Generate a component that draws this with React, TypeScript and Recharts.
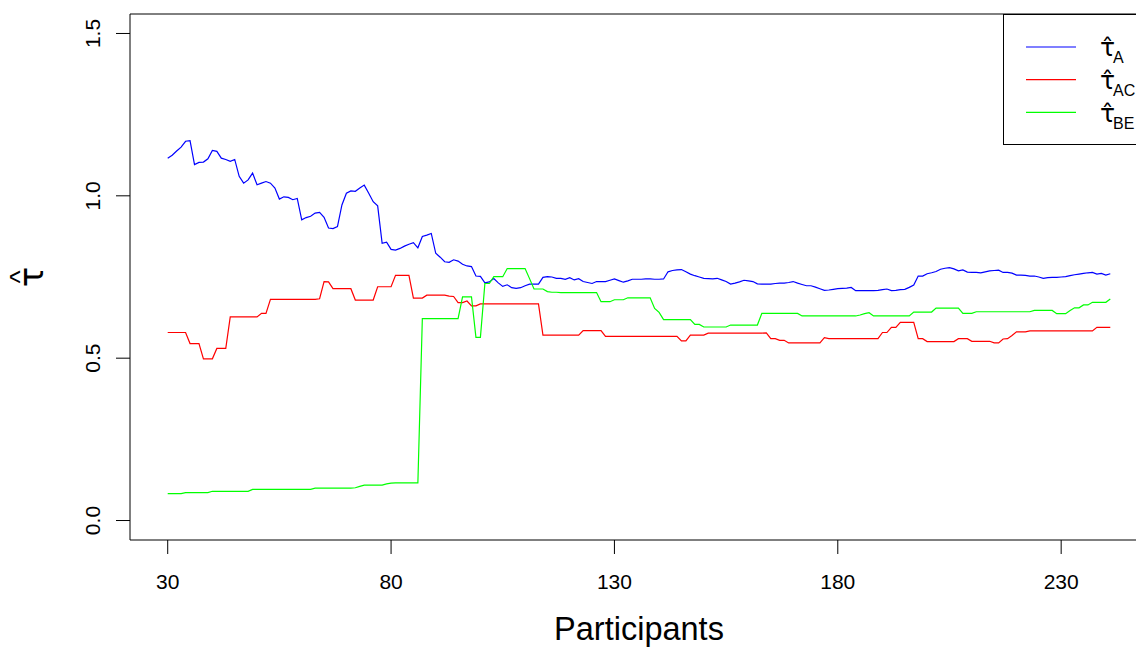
import React from 'react';
import { LineChart, Line, XAxis, YAxis, ReferenceArea, Legend, Label } from 'recharts';

const FONT = '"Liberation Sans", Arial, Helvetica, sans-serif';
const GREEK = '"DejaVu Sans", "Liberation Sans", sans-serif';

// tau-hat A, participants 30..241
const tauA = [
  1.116, 1.125, 1.138, 1.150, 1.168, 1.170, 1.096, 1.103, 1.104, 1.114,
  1.140, 1.137, 1.116, 1.112, 1.106, 1.112, 1.060, 1.039, 1.049, 1.070,
  1.034, 1.039, 1.044, 1.039, 1.024, 0.990, 0.997, 0.995, 0.988, 0.992,
  0.926, 0.933, 0.937, 0.947, 0.949, 0.934, 0.901, 0.899, 0.905, 0.972,
  1.008, 1.015, 1.014, 1.024, 1.033, 1.008, 0.982, 0.969, 0.854, 0.857,
  0.835, 0.833, 0.838, 0.845, 0.851, 0.856, 0.840, 0.875, 0.879, 0.884,
  0.823, 0.811, 0.797, 0.795, 0.803, 0.799, 0.789, 0.784, 0.782, 0.753,
  0.752, 0.732, 0.735, 0.745, 0.732, 0.721, 0.726, 0.717, 0.715, 0.717,
  0.723, 0.728, 0.728, 0.728, 0.749, 0.751, 0.750, 0.746, 0.746, 0.743,
  0.748, 0.741, 0.745, 0.736, 0.733, 0.730, 0.736, 0.736, 0.736, 0.740,
  0.744, 0.739, 0.734, 0.738, 0.743, 0.743, 0.743, 0.744, 0.744, 0.743,
  0.743, 0.744, 0.766, 0.770, 0.772, 0.773, 0.766, 0.759, 0.754, 0.750,
  0.746, 0.745, 0.744, 0.746, 0.741, 0.736, 0.728, 0.731, 0.735, 0.740,
  0.738, 0.736, 0.729, 0.728, 0.728, 0.728, 0.730, 0.731, 0.731, 0.733,
  0.736, 0.731, 0.727, 0.723, 0.723, 0.719, 0.714, 0.709, 0.710, 0.712,
  0.714, 0.715, 0.716, 0.718, 0.708, 0.708, 0.708, 0.708, 0.708, 0.709,
  0.711, 0.713, 0.708, 0.709, 0.711, 0.712, 0.718, 0.725, 0.753, 0.753,
  0.760, 0.763, 0.767, 0.774, 0.777, 0.779, 0.775, 0.769, 0.772, 0.765,
  0.764, 0.764, 0.763, 0.766, 0.769, 0.770, 0.771, 0.764, 0.764, 0.762,
  0.756, 0.756, 0.755, 0.753, 0.753, 0.750, 0.746, 0.748, 0.749, 0.749,
  0.750, 0.751, 0.754, 0.757, 0.759, 0.761, 0.763, 0.764, 0.759, 0.761,
  0.756, 0.760,
];

// tau-hat AC
const tauAC = [
  0.579, 0.579, 0.579, 0.579, 0.579, 0.545, 0.545, 0.545, 0.498, 0.498,
  0.498, 0.530, 0.530, 0.530, 0.627, 0.627, 0.627, 0.627, 0.627, 0.627,
  0.627, 0.638, 0.638, 0.681, 0.681, 0.681, 0.681, 0.681, 0.681, 0.681,
  0.681, 0.681, 0.681, 0.681, 0.683, 0.736, 0.735, 0.714, 0.714, 0.714,
  0.714, 0.714, 0.679, 0.679, 0.679, 0.679, 0.679, 0.720, 0.720, 0.720,
  0.720, 0.755, 0.755, 0.755, 0.755, 0.685, 0.685, 0.685, 0.694, 0.694,
  0.694, 0.694, 0.694, 0.691, 0.690, 0.671, 0.671, 0.676, 0.661, 0.661,
  0.667, 0.667, 0.667, 0.667, 0.667, 0.667, 0.667, 0.667, 0.667, 0.667,
  0.667, 0.667, 0.667, 0.667, 0.571, 0.571, 0.571, 0.571, 0.571, 0.571,
  0.571, 0.571, 0.571, 0.585, 0.585, 0.585, 0.585, 0.585, 0.567, 0.567,
  0.567, 0.567, 0.567, 0.567, 0.567, 0.567, 0.567, 0.567, 0.567, 0.567,
  0.567, 0.567, 0.567, 0.567, 0.567, 0.553, 0.553, 0.571, 0.571, 0.571,
  0.571, 0.577, 0.577, 0.577, 0.577, 0.577, 0.577, 0.577, 0.577, 0.577,
  0.577, 0.577, 0.577, 0.577, 0.578, 0.560, 0.560, 0.555, 0.555, 0.547,
  0.547, 0.547, 0.547, 0.547, 0.547, 0.547, 0.547, 0.563, 0.560, 0.560,
  0.560, 0.560, 0.560, 0.560, 0.560, 0.560, 0.560, 0.560, 0.560, 0.560,
  0.579, 0.579, 0.595, 0.595, 0.610, 0.610, 0.610, 0.610, 0.560, 0.560,
  0.551, 0.551, 0.551, 0.551, 0.551, 0.551, 0.551, 0.560, 0.560, 0.560,
  0.552, 0.552, 0.552, 0.552, 0.552, 0.547, 0.547, 0.559, 0.560, 0.570,
  0.581, 0.581, 0.581, 0.584, 0.584, 0.584, 0.584, 0.584, 0.584, 0.584,
  0.584, 0.584, 0.584, 0.584, 0.584, 0.584, 0.584, 0.584, 0.595, 0.595,
  0.595, 0.595,
];

// tau-hat BE
const tauBE = [
  0.083, 0.083, 0.083, 0.083, 0.086, 0.086, 0.086, 0.086, 0.086, 0.086,
  0.090, 0.090, 0.090, 0.090, 0.090, 0.090, 0.090, 0.090, 0.090, 0.096,
  0.096, 0.096, 0.096, 0.096, 0.096, 0.096, 0.096, 0.096, 0.096, 0.096,
  0.096, 0.096, 0.096, 0.100, 0.100, 0.100, 0.100, 0.100, 0.100, 0.100,
  0.100, 0.100, 0.101, 0.105, 0.109, 0.109, 0.109, 0.109, 0.109, 0.113,
  0.115, 0.116, 0.116, 0.116, 0.116, 0.116, 0.116, 0.622, 0.622, 0.622,
  0.622, 0.622, 0.622, 0.622, 0.622, 0.622, 0.689, 0.689, 0.689, 0.564,
  0.564, 0.730, 0.730, 0.751, 0.751, 0.751, 0.776, 0.776, 0.776, 0.776,
  0.776, 0.745, 0.713, 0.713, 0.713, 0.705, 0.703, 0.703, 0.702, 0.702,
  0.702, 0.702, 0.702, 0.702, 0.702, 0.702, 0.702, 0.674, 0.674, 0.674,
  0.680, 0.680, 0.680, 0.686, 0.686, 0.686, 0.686, 0.686, 0.686, 0.653,
  0.641, 0.619, 0.619, 0.619, 0.619, 0.619, 0.619, 0.619, 0.604, 0.604,
  0.596, 0.596, 0.596, 0.596, 0.596, 0.596, 0.602, 0.602, 0.602, 0.602,
  0.602, 0.602, 0.602, 0.638, 0.638, 0.638, 0.638, 0.638, 0.638, 0.638,
  0.638, 0.638, 0.630, 0.630, 0.630, 0.630, 0.630, 0.630, 0.630, 0.630,
  0.630, 0.630, 0.630, 0.630, 0.630, 0.633, 0.637, 0.640, 0.630, 0.630,
  0.630, 0.630, 0.630, 0.630, 0.630, 0.630, 0.630, 0.642, 0.642, 0.642,
  0.642, 0.642, 0.654, 0.654, 0.654, 0.654, 0.654, 0.654, 0.638, 0.638,
  0.638, 0.643, 0.643, 0.643, 0.643, 0.643, 0.643, 0.643, 0.643, 0.643,
  0.643, 0.643, 0.643, 0.643, 0.647, 0.647, 0.647, 0.647, 0.647, 0.637,
  0.637, 0.637, 0.647, 0.655, 0.655, 0.664, 0.664, 0.672, 0.672, 0.672,
  0.672, 0.682,
];

const FIRST_PARTICIPANT = 30;
const participants = tauA.map((_, i) => FIRST_PARTICIPANT + i);

const xTicks = [30, 80, 130, 180, 230];
const yTicks = [0, 0.5, 1, 1.5];
const yTickLabels = ['0.0', '0.5', '1.0', '1.5'];
const seriesKeys = ['a', 'ac', 'be'];
const seriesSubs = ['A', 'AC', 'BE'];
const seriesColors = ['#0000FF', '#FF0000', '#00FF00'];
const xLabel = 'Participants';
const TAU_HAT = 'τ\u0302';

const data = participants.map((n, i) => ({ n, a: tauA[i], ac: tauAC[i], be: tauBE[i] }));

// R-style 4% axis extension
const xMin = participants[0];
const xMax = participants[participants.length - 1];
const xExt = (xMax - xMin) * 0.04;
const xDomain: [number, number] = [xMin - xExt, xMax + xExt];
const yDomain: [number, number] = [0 - 1.5 * 0.04, 1.5 + 1.5 * 0.04];

const XTick = (props: any) => {
  const { x, payload } = props;
  return (
    <text x={x} y={589} textAnchor="middle" fontSize={21} fontFamily={FONT} fill="#000">
      {payload.value}
    </text>
  );
};

const YTick = (props: any) => {
  const { y, payload } = props;
  const idx = yTicks.indexOf(payload.value);
  const label = idx >= 0 ? yTickLabels[idx] : String(payload.value);
  const bx = 100;
  return (
    <text
      x={bx}
      y={y}
      transform={`rotate(-90 ${bx} ${y})`}
      textAnchor="middle"
      fontSize={21}
      fontFamily={FONT}
      fill="#000"
    >
      {label}
    </text>
  );
};

const XLabelContent = (props: any) => {
  const vb = props.viewBox || {};
  const cx = vb.width ? vb.x + vb.width / 2 : 639;
  return (
    <text x={cx} y={640} textAnchor="middle" fontSize={32.5} fontFamily={FONT} fill="#000">
      {xLabel}
    </text>
  );
};

const YLabelContent = () => {
  const cy = 277;
  const bx = 43;
  return (
    <text transform={`rotate(-90 ${bx} ${cy})`} fontFamily={GREEK} fill="#000">
      <tspan x={bx} y={cy} textAnchor="middle" fontSize={34}>τ</tspan>
      <tspan x={bx} y={cy - 14} textAnchor="middle" fontSize={28} fontFamily={FONT}>^</tspan>
    </text>
  );
};

const LegendBox = () => (
  <svg width={160} height={132} style={{ display: 'block', overflow: 'visible' }}>
    <rect x={0.5} y={0.5} width={200} height={130} fill="#fff" stroke="#000" strokeWidth={1} />
    {seriesSubs.map((sub, i) => {
      const ly = 33 + i * 32.7;
      return (
        <g key={sub}>
          <line x1={23} x2={73} y1={ly} y2={ly} stroke={seriesColors[i]} strokeWidth={1.2} />
          <text fill="#000" fontFamily={GREEK}>
            <tspan x={97} y={ly + 9.2} fontSize={25}>{TAU_HAT}</tspan>
            <tspan x={110} y={ly + 16.3} fontSize={16} fontFamily={FONT}>{sub}</tspan>
          </text>
        </g>
      );
    })}
  </svg>
);

export default function App() {
  return (
    <div
      style={{
        position: 'absolute',
        left: 0,
        top: 0,
        width: 1136,
        height: 648,
        overflow: 'hidden',
        background: '#fff',
      }}
    >
      <LineChart width={1160} height={648} data={data} margin={{ top: 14, right: 12, bottom: 0, left: 0 }}>
        <XAxis
          dataKey="n"
          type="number"
          domain={xDomain}
          allowDataOverflow
          ticks={xTicks}
          interval={0}
          tick={<XTick />}
          tickSize={14}
          tickLine={{ stroke: '#000' }}
          axisLine={false}
          height={108}
        >
          <Label content={XLabelContent} />
        </XAxis>
        <YAxis
          type="number"
          domain={yDomain}
          allowDataOverflow
          ticks={yTicks}
          interval={0}
          tick={<YTick />}
          tickSize={14}
          tickLine={{ stroke: '#000' }}
          axisLine={false}
          width={130}
        >
          <Label content={YLabelContent} />
        </YAxis>
        <ReferenceArea
          x1={xDomain[0]}
          x2={xDomain[1]}
          y1={yDomain[0]}
          y2={yDomain[1]}
          fill="none"
          fillOpacity={0}
          stroke="#000"
          strokeWidth={1}
          ifOverflow="visible"
        />
        {seriesKeys.map((k, i) => (
          <Line
            key={k}
            dataKey={k}
            type="linear"
            stroke={seriesColors[i]}
            strokeWidth={1.2}
            dot={false}
            activeDot={false}
            isAnimationActive={false}
          />
        ))}
        <Legend
          content={LegendBox}
          layout="vertical"
          align="center"
          verticalAlign="middle"
          wrapperStyle={{ position: 'absolute', left: 1003, top: 14, width: 160, height: 132 }}
        />
      </LineChart>
    </div>
  );
}
